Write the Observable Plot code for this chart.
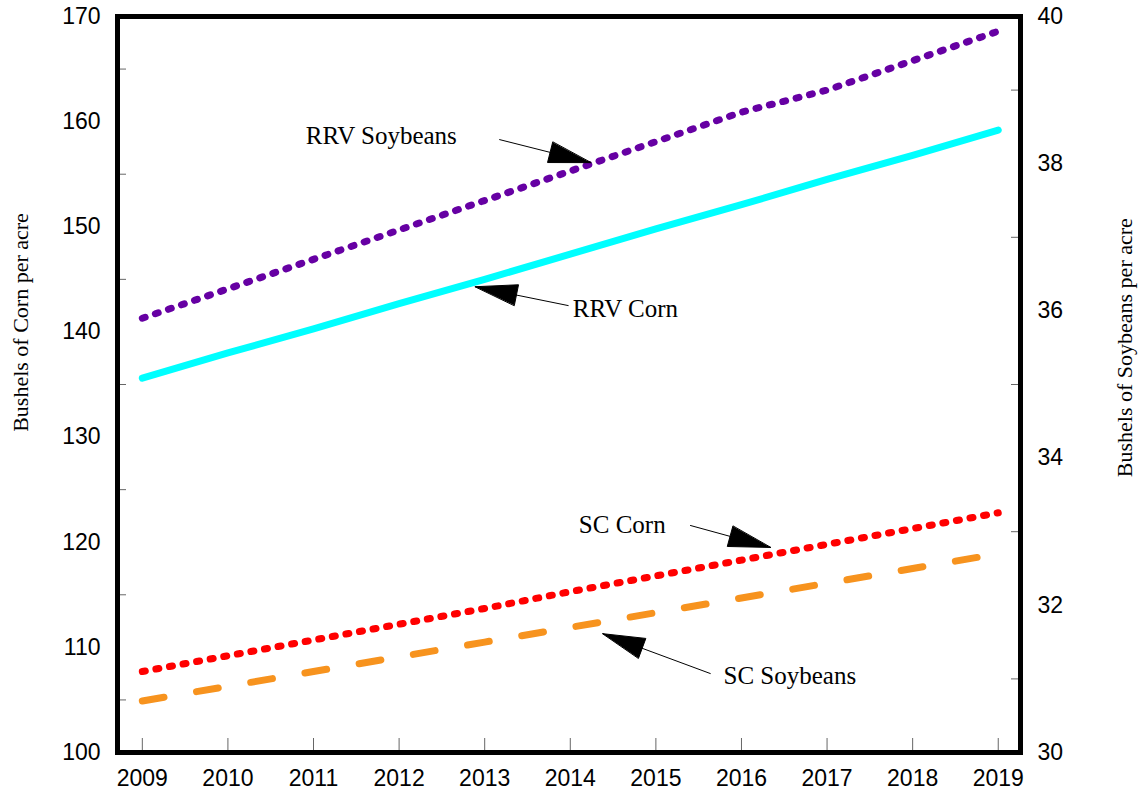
<!DOCTYPE html>
<html><head><meta charset="utf-8">
<script src="https://cdn.jsdelivr.net/npm/d3@7"></script>
<script src="https://cdn.jsdelivr.net/npm/@observablehq/plot@0.6"></script>
<style>body{margin:0;background:#fff} #chart svg{display:block}</style>
</head><body><div id="chart"></div>
<script>
// ---- data ----
const years = [2009, 2010, 2011, 2012, 2013, 2014, 2015, 2016, 2017, 2018, 2019];
const rrvCorn = [135.6, 138.0, 140.3, 142.7, 145.0, 147.4, 149.8, 152.1, 154.5, 156.8, 159.2];
const scCorn = [107.7, 109.2, 110.7, 112.2, 113.7, 115.3, 116.8, 118.3, 119.8, 121.3, 122.8];
const rrvSoy = [35.9, 36.3, 36.7, 37.1, 37.5, 37.9, 38.3, 38.7, 39.0, 39.4, 39.8];
const scSoy = [30.7, 30.9, 31.1, 31.3, 31.5, 31.7, 31.9, 32.1, 32.3, 32.5, 32.7];
const leftTicks = [100, 110, 120, 130, 140, 150, 160, 170];
const leftMinor = [105, 115, 125, 135, 145, 155, 165];
const rightTicks = [30, 32, 34, 36, 38, 40];
const rightMinor = [31, 33, 35, 37, 39];
const labelNames = ["RRV Soybeans", "RRV Corn", "SC Corn", "SC Soybeans"];
const labelX = [2010.91, 2014.03, 2014.10, 2015.79];
const labelY = [158.6, 142.2, 121.6, 107.3];
const arrowFromX = [2013.17, 2013.98, 2015.40, 2015.64];
const arrowFromY = [158.3, 142.5, 121.6, 107.5];
const arrowToX = [2014.24, 2012.89, 2016.34, 2014.38];
const arrowToY = [156.1, 144.3, 119.5, 111.3];
const axisTitles = ["Bushels of Corn per acre", "Bushels of Soybeans per acre"];
const axisTitleX = [2007.58, 2020.48];
const axisTitleY = [140.9, 138.5];

// ---- layout ----
const W = 1138, H = 795, mL = 117, mR = 118, mT = 16, mB = 43;
const xDomain = [2008.71, 2019.26];
const yDomain = [100, 170];
const toLeft = s => 100 + (s - 30) * 7;
const fw = W - mL - mR, fh = H - mT - mB;

const px = x => mL + (x - xDomain[0]) / (xDomain[1] - xDomain[0]) * fw;
const py = y => mT + (yDomain[1] - y) / (yDomain[1] - yDomain[0]) * fh;
const ix = p => xDomain[0] + (p - mL) / fw * (xDomain[1] - xDomain[0]);
const iy = p => yDomain[1] - (p - mT) / fh * (yDomain[1] - yDomain[0]);

const series = [
  {vals: rrvSoy.map(toLeft), stroke: "#6600a3", width: 7, dash: "3,10.8"},
  {vals: rrvCorn, stroke: "#00ffff", width: 7, dash: null},
  {vals: scCorn, stroke: "#ff0000", width: 7, dash: "3,10.8"},
  {vals: scSoy.map(toLeft), stroke: "#f7931e", width: 7, dash: "22,33"}
];

const arrows = labelNames.map((n, i) => ({x1: arrowFromX[i], y1: arrowFromY[i], x2: arrowToX[i], y2: arrowToY[i]}));
const heads = [];
arrows.forEach((a, i) => {
  const sx = px(a.x1), sy = py(a.y1), tx = px(a.x2), ty = py(a.y2);
  const dx = tx - sx, dy = ty - sy, len = Math.hypot(dx, dy);
  const ux = dx / len, uy = dy / len, nx = -uy, ny = ux;
  const L = 42, Wd = 10.5;
  [[tx, ty], [tx - L * ux + Wd * nx, ty - L * uy + Wd * ny], [tx - L * ux - Wd * nx, ty - L * uy - Wd * ny]]
    .forEach(([p, q]) => heads.push({x: ix(p), y: iy(q), z: i}));
});
const labels = labelNames.map((n, i) => ({text: n, x: labelX[i], y: labelY[i]}));
const titles = axisTitles.map((t, i) => ({text: t, x: axisTitleX[i], y: axisTitleY[i]}));

const marks = [];
series.forEach(s => {
  marks.push(Plot.line(years.map((y, i) => ({x: y, y: s.vals[i]})), {
    x: "x", y: "y", stroke: s.stroke, strokeWidth: s.width,
    strokeDasharray: s.dash, strokeLinecap: "round"
  }));
});
marks.push(
  Plot.tickY(leftMinor, {y: d => d, insetRight: fw - 9, stroke: "#666", strokeWidth: 1}),
  Plot.tickY(rightMinor, {y: d => toLeft(d), insetLeft: fw - 9, stroke: "#666", strokeWidth: 1}),
  Plot.tickX(years, {x: d => d, insetTop: fh - 14, stroke: "#666", strokeWidth: 1}),
  Plot.frame({stroke: "black", strokeWidth: 5}),
  Plot.axisY({ticks: leftTicks, anchor: "left", tickSize: 0, tickPadding: 17, fontSize: 23}),
  Plot.axisY({ticks: rightTicks.map(toLeft), anchor: "right", tickSize: 0, tickPadding: 17, fontSize: 23,
    tickFormat: d => String(Math.round(30 + (d - 100) / 7))}),
  Plot.axisX({ticks: years, anchor: "bottom", tickSize: 0, tickPadding: 17, fontSize: 23, tickFormat: d => String(d)}),
  Plot.link(arrows, {x1: "x1", y1: "y1", x2: "x2", y2: "y2", stroke: "black", strokeWidth: 1}),
  Plot.line(heads, {x: "x", y: "y", z: "z", fill: "black", stroke: "black", strokeWidth: 1, curve: "linear-closed"}),
  Plot.text(labels, {x: "x", y: "y", text: "text", textAnchor: "start", fontFamily: "Liberation Serif", fontSize: 25, fill: "black"}),
  Plot.text(titles, {x: "x", y: "y", text: "text", rotate: -90, fontFamily: "Liberation Serif", fontSize: 22, fill: "black"})
);

const chart = Plot.plot({
  width: W, height: H,
  marginLeft: mL, marginRight: mR, marginTop: mT, marginBottom: mB,
  x: {type: "linear", domain: xDomain},
  y: {type: "linear", domain: yDomain},
  style: {fontFamily: "Liberation Sans, Arial, sans-serif", color: "black", background: "white"},
  marks
});
document.getElementById("chart").appendChild(chart);
</script>
</body></html>
